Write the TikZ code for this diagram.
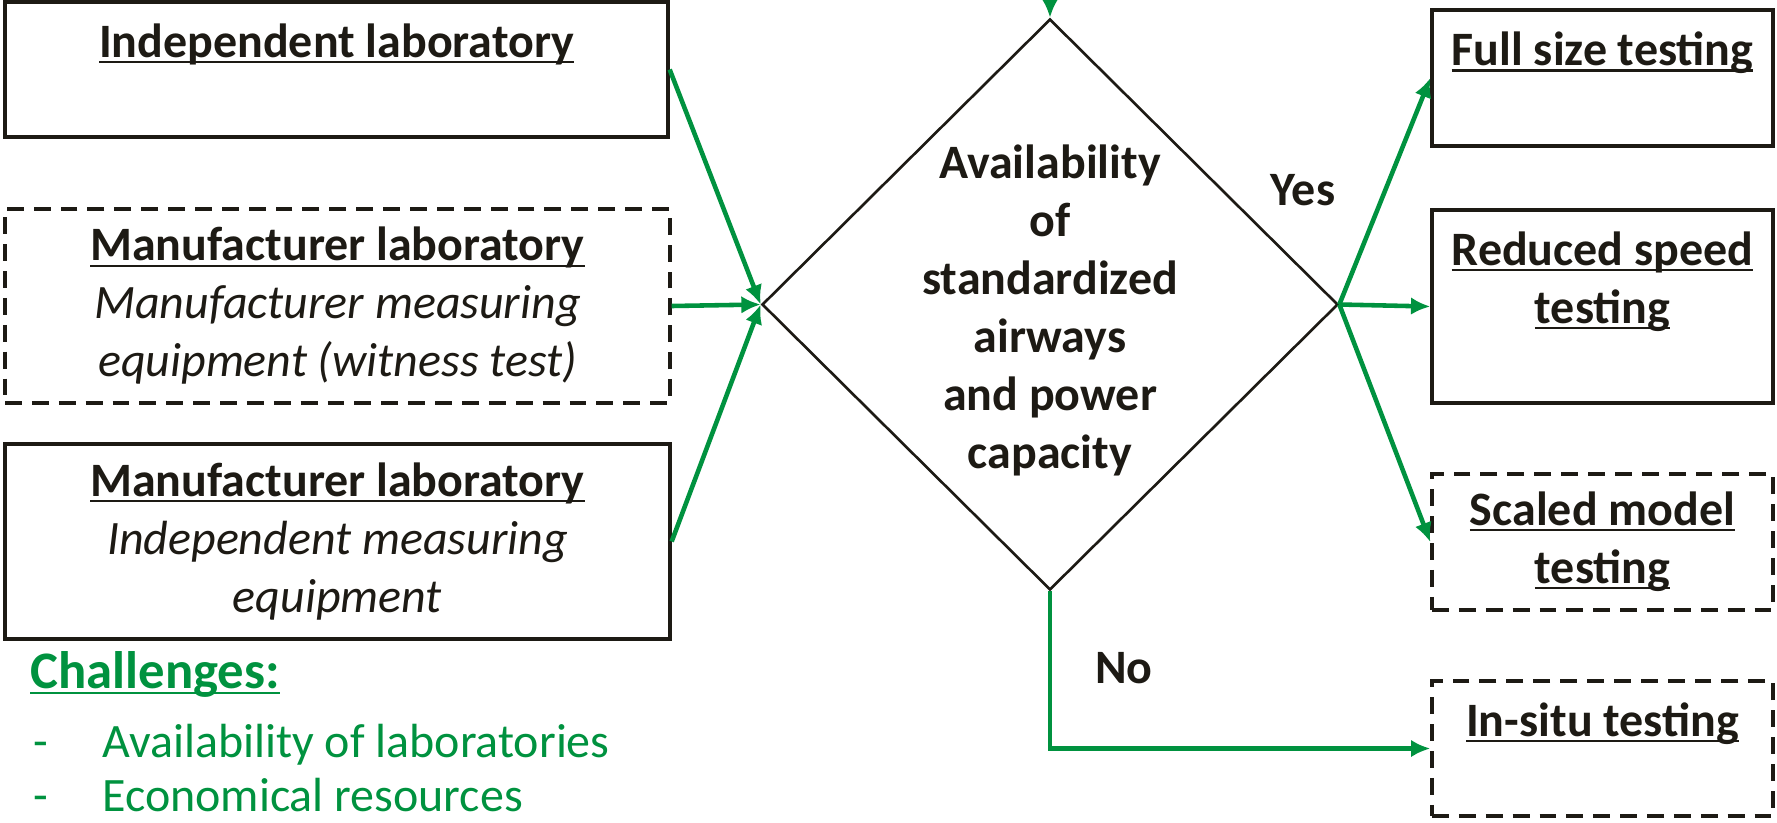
\documentclass[tikz,border=0pt]{standalone}
\usepackage{fontspec}
\setmainfont{Carlito}
\usetikzlibrary{arrows.meta,shapes.geometric,positioning}
\definecolor{flowgreen}{RGB}{0,146,63}
\definecolor{boxblack}{RGB}{29,26,20}
\def\px{0.02cm}
\def\boxfont{\fontsize{27.3}{33}\selectfont}
\def\undl#1{\setbox0\hbox{#1}\rlap{\rule[-3.2pt]{\wd0}{1.2pt}}\box0}

\begin{document}
\begin{tikzpicture}[x=\px, y=-\px,
		labbox/.style={draw=boxblack, line width=1.9pt, align=center, font=\boxfont, text=boxblack, inner sep=0pt},
		dashbox/.style={labbox, dash pattern=on 9.6pt off 5.7pt},
		flow/.style={draw=flowgreen, line width=2.6pt, -{Latex[length=11pt,width=10pt]}},
		tag/.style={font=\boxfont\bfseries, text=boxblack}]
		%%%%% START %%%%%
		\useasboundingbox (0,0) rectangle (1777,822);
		
		% laboratories
		\node[labbox, minimum width=663*\px, minimum height=135*\px] (indep) at (336.5,69.5)
			{\undl{\textbf{Independent laboratory}}\\\mbox{}};
		\node[dashbox, minimum width=665*\px, minimum height=194*\px] (mfrwit) at (337.5,306)
			{\undl{\textbf{Manufacturer laboratory}}\\\textit{Manufacturer measuring}\\\textit{equipment (witness test)}};
		\node[labbox, minimum width=665*\px, minimum height=195*\px] (mfrind) at (337.5,541.5)
			{\undl{\textbf{Manufacturer laboratory}}\\\textit{Independent measuring}\\\textit{equipment}};
		
		% decision
		\node[draw=boxblack, line width=1.5pt, diamond, minimum width=576*\px, minimum height=571*\px, inner sep=0pt] (avail) at (1050,304.5) {};
		\node[tag, align=center, yshift=-3.6pt] (availtxt) at (avail.center)
			{Availability\\of\\standardized\\airways\\and power\\capacity};
		
		% testing
		\node[labbox, minimum width=341*\px, minimum height=136*\px] (full) at (1602.5,78)
			{\undl{\textbf{Full size testing}}\\\mbox{}};
		\node[labbox, minimum width=341*\px, minimum height=193*\px] (reduced) at (1602.5,306.5)
			{\undl{\textbf{Reduced speed}}\\\undl{\textbf{testing}}\\\mbox{}};
		\node[dashbox, minimum width=341*\px, minimum height=136*\px] (scaled) at (1602.5,542)
			{\undl{\textbf{Scaled model}}\\\undl{\textbf{testing}}};
		\node[dashbox, minimum width=341*\px, minimum height=135*\px] (insitu) at (1602.5,748.5)
			{\undl{\textbf{In-situ testing}}\\\mbox{}};
		
		\node[tag] (yes) at (1303,190) {Yes};
		\node[tag] (no) at (1124,668) {No};
		
		% challenges
		\node[anchor=base west, inner sep=0pt, text=flowgreen, font=\fontsize{30}{36}\selectfont\bfseries] (chall) at (30,688) {\undl{Challenges:}};
		\node[anchor=base west, inner sep=0pt, text=flowgreen, font=\boxfont] (dasha) at (33,757) {-};
		\node[anchor=base west, inner sep=0pt, text=flowgreen, font=\boxfont] (itema) at (102,757) {Availability of laboratories};
		\node[anchor=base west, inner sep=0pt, text=flowgreen, font=\boxfont] (dashb) at (33,811) {-};
		\node[anchor=base west, inner sep=0pt, text=flowgreen, font=\boxfont] (itemb) at (102,811) {Economical resources};
		
		% connectors
		\coordinate (topin) at (1050,0);
		\draw[flow] (topin) -- (avail.north);
		\draw[flow] (indep.east) -- (avail.west);
		\draw[flow] (mfrwit.east) -- (avail.west);
		\draw[flow] (mfrind.east) -- (avail.west);
		\draw[flow] (avail.east) -- (full.west);
		\draw[flow] (avail.east) -- (reduced.west);
		\draw[flow] (avail.east) -- (scaled.west);
		\draw[flow] (avail.south) |- (insitu.west);
		%%%%% END %%%%%
\end{tikzpicture}
\end{document}
